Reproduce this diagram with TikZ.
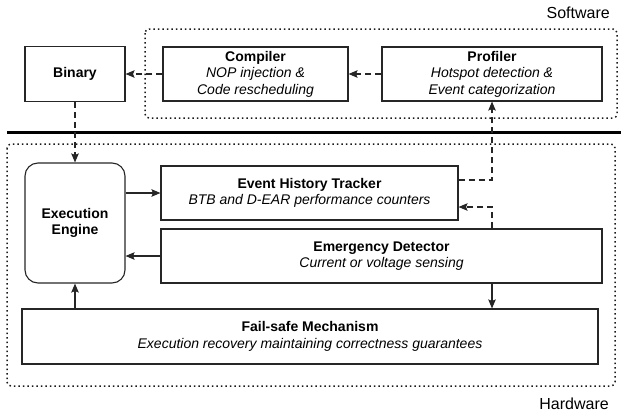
\documentclass[tikz,border=0pt]{standalone}
\usepackage{fontspec}
\setmainfont{Liberation Sans}
\usetikzlibrary{arrows.meta,calc}

\tikzset{
  box/.style={draw=black!85, line width=1.1pt, align=center, inner sep=0pt,
    font=\fontsize{14}{16.5}\selectfont},
  frame/.style={draw=black!90, line width=1.5pt, dash pattern=on 1.5pt off 3pt,
    rounded corners=4pt},
  flow/.style={draw=black!85, line width=1.1pt,
    -{Stealth[length=9pt,width=7.5pt,inset=1.5pt]}},
  dflow/.style={flow, dash pattern=on 6pt off 4pt},
  layer/.style={font=\fontsize{16}{18}\selectfont, anchor=east, inner sep=0pt}
}

\begin{document}
\begin{tikzpicture}[x=1pt, y=-1pt]
\useasboundingbox (0,0) rectangle (621,415);

% software / hardware layers
\draw[frame] (145,29) rectangle (617,118);
\draw[frame] (7,144) rectangle (615,386);
\draw[line width=2.6pt] (7,132.5) -- (621,132.5);
\node[layer] (sw) at (610,13) {Software};
\node[layer] (hw) at (609,404) {Hardware};

% software blocks
\node[box, minimum width=100pt, minimum height=55pt] (bin) at (75,74)
  {\textbf{Binary}};
\node[box, minimum width=185pt, minimum height=54pt] (comp) at (255.5,74)
  {\textbf{Compiler}\\\textit{NOP injection \&}\\\textit{Code rescheduling}};
\node[box, minimum width=220pt, minimum height=54pt] (prof) at (492,74)
  {\textbf{Profiler}\\\textit{Hotspot detection \&}\\\textit{Event categorization}};

% hardware blocks
\node[box, rounded corners=13pt, minimum width=100pt, minimum height=120pt] (exec) at (75,223)
  {\textbf{Execution}\\\textbf{Engine}};
\node[box, minimum width=297pt, minimum height=54pt] (eht) at (309.5,193)
  {\textbf{Event History Tracker}\\\textit{BTB and D-EAR performance counters}};
\node[box, minimum width=441pt, minimum height=54pt] (ed) at (381.5,256)
  {\textbf{Emergency Detector}\\\textit{Current or voltage sensing}};
\node[box, minimum width=576pt, minimum height=55pt] (fs) at (310,336.5)
  {\textbf{Fail-safe Mechanism}\\\textit{Execution recovery maintaining correctness guarantees}};

% software flow
\draw[dflow] (comp.west) -- (bin.east);
\draw[dflow] (prof.west) -- (comp.east);
\draw[dflow] (bin.south) -- (exec.north);
\draw[dflow] ([yshift=13pt]eht.east) -| (prof.south);
\draw[dflow] (ed.north -| prof.south) |- ([yshift=-14pt]eht.east);

% hardware flow
\draw[flow] (exec.east |- eht.west) -- (eht.west);
\draw[flow] (ed.west) -- (ed.west -| exec.east);
\draw[flow] (ed.south -| prof.south) -- (prof.south |- fs.north);
\draw[flow] (fs.north -| exec.south) -- (exec.south);
\end{tikzpicture}
\end{document}
